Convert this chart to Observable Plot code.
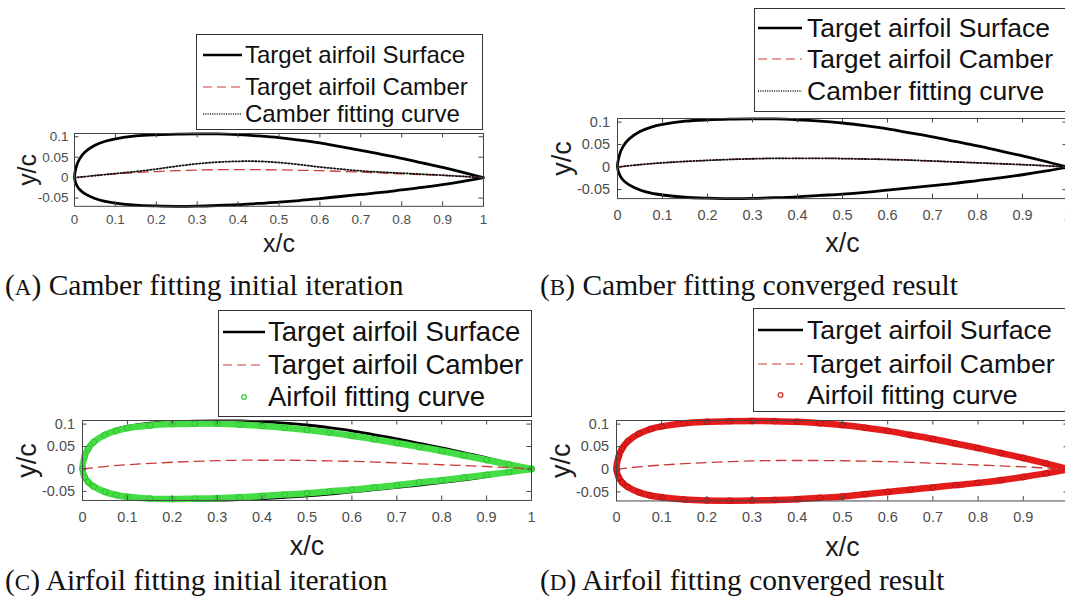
<!DOCTYPE html>
<html>
<head>
<meta charset="utf-8">
<script src="https://cdn.jsdelivr.net/npm/d3@7"></script>
<script src="https://cdn.jsdelivr.net/npm/@observablehq/plot@0.6"></script>
<style>
  body { margin: 0; width: 1065px; height: 601px; overflow: hidden; background: #fff; position: relative;
         font-family: "Liberation Sans", Arial, sans-serif; }
  .panel { position: absolute; }
  .legend-box { position: absolute; background: #fff; border: 1px solid #333; box-sizing: border-box; }
  .legend-text { position: absolute; white-space: nowrap; color: #111; }
  .legend-sample { position: absolute; overflow: visible; }
  .caption { position: absolute; white-space: nowrap; color: #111; line-height: 1;
             font-family: "Liberation Serif", "Times New Roman", serif; font-size: 29.5px; }
  .caption .sc { font-size: 0.78em; }
</style>
</head>
<body>
<script>
// Chordwise stations of the airfoil surfaces
const stationX = [0, 0.005, 0.0125, 0.025, 0.05, 0.075, 0.1, 0.15, 0.2, 0.25, 0.3, 0.35, 0.4,
                  0.45, 0.5, 0.55, 0.6, 0.65, 0.7, 0.75, 0.8, 0.85, 0.9, 0.95, 1];

// Target airfoil surface ordinates y/c
const targetUpper = [0, 0.029, 0.046, 0.062, 0.079, 0.089, 0.095, 0.102, 0.105, 0.1065, 0.107, 0.107, 0.105,
                     0.102, 0.098, 0.092, 0.085, 0.076, 0.067, 0.057, 0.047, 0.036, 0.025, 0.013, 0];
const targetLower = [0, -0.018, -0.029, -0.039, -0.051, -0.058, -0.062, -0.067, -0.069, -0.070, -0.0695, -0.068, -0.066,
                     -0.063, -0.060, -0.056, -0.051, -0.046, -0.041, -0.036, -0.030, -0.024, -0.017, -0.009, 0];

// Airfoil fitting curve, initial iteration
const fitInitialUpper = [0, 0.028, 0.045, 0.060, 0.076, 0.085, 0.091, 0.097, 0.100, 0.101, 0.101, 0.099, 0.096,
                         0.092, 0.087, 0.081, 0.074, 0.066, 0.058, 0.049, 0.040, 0.030, 0.020, 0.010, 0];
const fitInitialLower = [0, -0.018, -0.029, -0.039, -0.051, -0.058, -0.062, -0.066, -0.067, -0.066, -0.065, -0.063, -0.060,
                         -0.057, -0.054, -0.050, -0.046, -0.041, -0.036, -0.030, -0.025, -0.019, -0.013, -0.007, 0];

// Airfoil fitting curve, converged result
const fitConvergedUpper = [0, 0.029, 0.046, 0.062, 0.079, 0.089, 0.095, 0.102, 0.105, 0.1065, 0.107, 0.1065, 0.105,
                           0.102, 0.098, 0.092, 0.085, 0.076, 0.067, 0.057, 0.047, 0.036, 0.025, 0.013, 0];
const fitConvergedLower = [0, -0.018, -0.029, -0.039, -0.051, -0.058, -0.062, -0.067, -0.069, -0.0695, -0.069, -0.068, -0.066,
                           -0.063, -0.060, -0.055, -0.050, -0.045, -0.040, -0.035, -0.030, -0.024, -0.017, -0.009, 0];

// Camber line stations
const camberX = [0, 0.05, 0.1, 0.15, 0.2, 0.25, 0.3, 0.35, 0.4, 0.45, 0.5,
                 0.55, 0.6, 0.65, 0.7, 0.75, 0.8, 0.85, 0.9, 0.95, 1];
const targetCamber = [0, 0.0055, 0.0095, 0.0125, 0.015, 0.017, 0.0185, 0.0195, 0.0195, 0.0195, 0.019,
                      0.018, 0.017, 0.0155, 0.0135, 0.0115, 0.0095, 0.0075, 0.0055, 0.003, 0];
const camberFitInitial = [0, 0.005, 0.010, 0.015, 0.021, 0.028, 0.034, 0.038, 0.040, 0.040, 0.037,
                          0.032, 0.026, 0.021, 0.0165, 0.0135, 0.011, 0.0085, 0.006, 0.003, 0];
const camberFitConverged = [0, 0.0055, 0.0095, 0.0125, 0.015, 0.017, 0.0185, 0.0195, 0.0195, 0.0195, 0.019,
                            0.018, 0.017, 0.0155, 0.0135, 0.0115, 0.0095, 0.0075, 0.0055, 0.003, 0];

// Axis ticks
const xTicks = [0, 0.1, 0.2, 0.3, 0.4, 0.5, 0.6, 0.7, 0.8, 0.9, 1];
const xTickLabels = ["0", "0.1", "0.2", "0.3", "0.4", "0.5", "0.6", "0.7", "0.8", "0.9", "1"];
const yTicks = [-0.05, 0, 0.05, 0.1];
const yTickLabels = ["-0.05", "0", "0.05", "0.1"];

// Legend entries and panel captions
const legendSurface = "Target airfoil Surface";
const legendCamber = "Target airfoil Camber";
const legendCamberFit = "Camber fitting curve";
const legendAirfoilFit = "Airfoil fitting curve";
const captions = [
  ["A", "Camber fitting initial iteration"],
  ["B", "Camber fitting converged result"],
  ["C", "Airfoil fitting initial iteration"],
  ["D", "Airfoil fitting converged result"]
];

const Y_DOMAIN = [-0.07, 0.108];
const INK = "#444";
const CAMBER_RED = "#cc3a36";

// closed contour: trailing edge -> upper surface -> leading edge -> lower surface -> trailing edge
function contour(xs, upper, lower) {
  const pts = [];
  for (let i = xs.length - 1; i >= 0; i--) pts.push({x: xs[i], y: upper[i]});
  for (let i = 1; i < xs.length; i++) pts.push({x: xs[i], y: lower[i]});
  return pts;
}
function pointsOf(xs, ys) { return xs.map((x, i) => ({x, y: ys[i]})); }

const surfaceMark = () => Plot.line(contour(stationX, targetUpper, targetLower),
  {x: "x", y: "y", stroke: "#000", strokeWidth: 2.8, curve: "catmull-rom"});
const camberMark = () => Plot.line(pointsOf(camberX, targetCamber),
  {x: "x", y: "y", stroke: CAMBER_RED, strokeWidth: 1.3, strokeDasharray: "10,6", curve: "catmull-rom"});
const camberFitMark = (ys) => Plot.line(pointsOf(camberX, ys),
  {x: "x", y: "y", stroke: "#111", strokeWidth: 1.8, strokeDasharray: "1.3,2", curve: "catmull-rom"});
const airfoilFitMarks = (upper, lower, band, edge) => {
  const pts = contour(stationX, upper, lower);
  return [
    Plot.line(pts, {x: "x", y: "y", stroke: band, strokeWidth: 6.5, curve: "catmull-rom"}),
    Plot.dot(pts, {x: "x", y: "y", r: 3, stroke: edge, strokeOpacity: 0.6, strokeWidth: 1, fill: "none"})
  ];
};

function drawPanel(p) {
  const plotW = p.scale;
  const plotH = p.scale * (Y_DOMAIN[1] - Y_DOMAIN[0]);
  const fmtX = d => xTickLabels[xTicks.indexOf(d)];
  const fmtY = d => yTickLabels[yTicks.indexOf(d)];
  const chart = Plot.plot({
    width: p.mL + plotW + p.mR,
    height: p.mT + plotH + p.mB,
    marginLeft: p.mL, marginTop: p.mT, marginRight: p.mR, marginBottom: p.mB,
    x: {domain: [0, 1]},
    y: {domain: Y_DOMAIN},
    style: {fontFamily: "'Liberation Sans', Arial, sans-serif", background: "transparent", overflow: "visible"},
    marks: [
      ...p.marks,
      Plot.frame({stroke: INK, strokeWidth: 1}),
      Plot.tickX(xTicks, {x: d => d, insetTop: plotH - 4.5, stroke: INK}),
      Plot.tickX(xTicks, {x: d => d, insetBottom: plotH - 4.5, stroke: INK}),
      Plot.tickY(yTicks, {y: d => d, insetRight: plotW - 4.5, stroke: INK}),
      Plot.tickY(yTicks, {y: d => d, insetLeft: plotW - 4.5, stroke: INK}),
      Plot.axisX({ticks: xTicks, tickFormat: fmtX, tickSize: 0, tickPadding: p.padX,
                  fontSize: p.tickFs, color: "#4d4d4d", label: null}),
      Plot.axisY({ticks: yTicks, tickFormat: fmtY, tickSize: 0, tickPadding: p.padY,
                  fontSize: p.tickFs, color: "#4d4d4d", label: null}),
      Plot.text(["x/c"], {text: d => d, frameAnchor: "bottom", lineAnchor: "middle", textAnchor: "middle",
                          dy: p.xLabDy, fontSize: p.labFs, fill: "#1c1c1c"}),
      Plot.text(["y/c"], {text: d => d, frameAnchor: "left", lineAnchor: "middle", textAnchor: "middle",
                          dx: p.yLabDx, rotate: -90, fontSize: p.labFs, fill: "#1c1c1c"})
    ]
  });
  chart.classList.add("panel");
  chart.style.left = (p.L - p.mL) + "px";
  chart.style.top = (p.T - p.mT) + "px";
  document.body.appendChild(chart);
}

function sampleSvg(kind, w) {
  const mid = 6;
  if (kind === "surface") return `<line x1="0" y1="${mid}" x2="${w}" y2="${mid}" stroke="#000" stroke-width="2.4"/>`;
  if (kind === "camber") return `<line x1="0" y1="${mid}" x2="${w}" y2="${mid}" stroke="${CAMBER_RED}" stroke-width="1.1" stroke-dasharray="9,5"/>`;
  if (kind === "camberFit") return `<line x1="0" y1="${mid}" x2="${w}" y2="${mid}" stroke="#111" stroke-width="1.5" stroke-dasharray="1,1.3"/>`;
  if (kind === "fitGreen") return `<circle cx="${w / 2}" cy="${mid}" r="2.4" fill="none" stroke="#3ccf3c" stroke-width="1.3"/>`;
  if (kind === "fitRed") return `<circle cx="${w / 2}" cy="${mid}" r="2.4" fill="none" stroke="#d83030" stroke-width="1.3"/>`;
  return "";
}

function drawLegend(g) {
  const box = document.createElement("div");
  box.className = "legend-box";
  Object.assign(box.style, {left: g.left + "px", top: g.top + "px", width: g.width + "px", height: g.height + "px"});
  document.body.appendChild(box);
  g.rows.forEach(([kind, label], i) => {
    const cy = g.rowY[i];
    const w = g.s1 - g.s0;
    const svg = document.createElementNS("http://www.w3.org/2000/svg", "svg");
    svg.setAttribute("class", "legend-sample");
    svg.setAttribute("width", w);
    svg.setAttribute("height", 12);
    svg.style.left = g.s0 + "px";
    svg.style.top = (cy - 6) + "px";
    svg.innerHTML = sampleSvg(kind, w);
    document.body.appendChild(svg);
    const t = document.createElement("div");
    t.className = "legend-text";
    t.textContent = label;
    Object.assign(t.style, {left: g.textX + "px", top: (cy - g.fs / 2) + "px", fontSize: g.fs + "px", lineHeight: g.fs + "px"});
    document.body.appendChild(t);
  });
}

function drawCaption([letter, text], left, baseline) {
  const c = document.createElement("div");
  c.className = "caption";
  c.style.left = left + "px";
  c.style.top = (baseline - 0.8375 * 29.5) + "px";
  c.innerHTML = `(<span class="sc">${letter}</span>) `;
  c.appendChild(document.createTextNode(text));
  document.body.appendChild(c);
}

// (A) camber fitting, initial iteration
drawPanel({L: 74.3, T: 133, scale: 409, mL: 74, mT: 10, mR: 14, mB: 52,
  tickFs: 13.5, padX: 8, padY: 6, labFs: 25, xLabDy: 38, yLabDx: -47,
  marks: [surfaceMark(), camberMark(), camberFitMark(camberFitInitial)]});

// (B) camber fitting, converged result
drawPanel({L: 617, T: 118, scale: 450, mL: 70, mT: 8, mR: 10, mB: 52,
  tickFs: 14.5, padX: 11, padY: 7.5, labFs: 27, xLabDy: 45, yLabDx: -55,
  marks: [surfaceMark(), camberMark(), camberFitMark(camberFitConverged)]});

// (C) airfoil fitting, initial iteration
drawPanel({L: 81.6, T: 420, scale: 449, mL: 80, mT: 8, mR: 14, mB: 52,
  tickFs: 14.5, padX: 11, padY: 7.5, labFs: 27, xLabDy: 46, yLabDx: -55,
  marks: [surfaceMark(), ...airfoilFitMarks(fitInitialUpper, fitInitialLower, "#45dd45", "#22b022"), camberMark()]});

// (D) airfoil fitting, converged result
drawPanel({L: 616.3, T: 420, scale: 452, mL: 70, mT: 8, mR: 10, mB: 52,
  tickFs: 14.5, padX: 11, padY: 7.5, labFs: 27, xLabDy: 46, yLabDx: -55,
  marks: [surfaceMark(), ...airfoilFitMarks(fitConvergedUpper, fitConvergedLower, "#e41c1c", "#9a0c0c"), camberMark()]});

drawLegend({left: 196, top: 34, width: 287, height: 96, fs: 24, s0: 203, s1: 242, textX: 245,
  rowY: [55, 86.5, 114], rows: [["surface", legendSurface], ["camber", legendCamber], ["camberFit", legendCamberFit]]});
drawLegend({left: 754, top: 8, width: 330, height: 104, fs: 26.5, s0: 758, s1: 802, textX: 807,
  rowY: [28, 59, 91], rows: [["surface", legendSurface], ["camber", legendCamber], ["camberFit", legendCamberFit]]});
drawLegend({left: 218, top: 310, width: 314, height: 107, fs: 27.5, s0: 223, s1: 265, textX: 268,
  rowY: [332, 365, 397], rows: [["surface", legendSurface], ["camber", legendCamber], ["fitGreen", legendAirfoilFit]]});
drawLegend({left: 753, top: 308, width: 330, height: 104, fs: 26.7, s0: 758, s1: 803, textX: 807,
  rowY: [330, 364, 395], rows: [["surface", legendSurface], ["camber", legendCamber], ["fitRed", legendAirfoilFit]]});

drawCaption(captions[0], 5, 296);
drawCaption(captions[1], 540, 296);
drawCaption(captions[2], 5, 591);
drawCaption(captions[3], 540, 591);
</script>
</body>
</html>
